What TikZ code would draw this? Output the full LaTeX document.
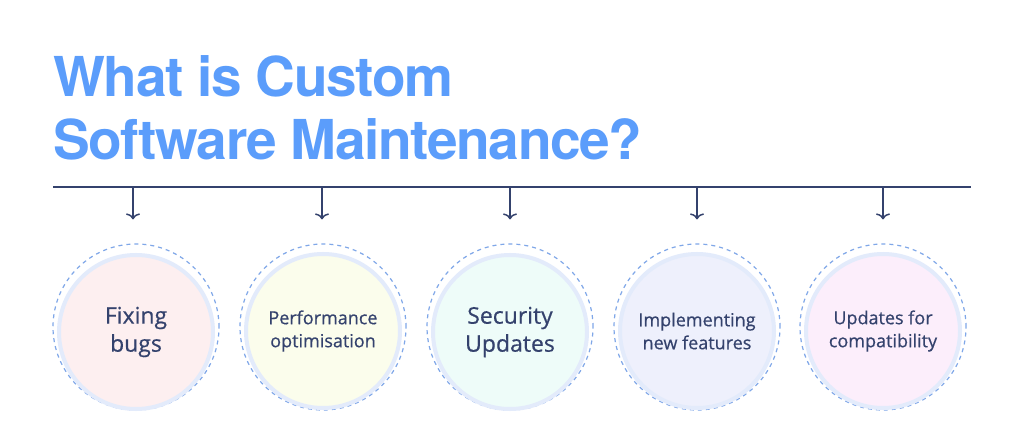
\documentclass[tikz,border=0pt]{standalone}
\usepackage{fontspec}
\setmainfont{Open Sans}
\newfontfamily\titlefont{TeX Gyre Heros}[LetterSpace=-2.5]
\newfontfamily\medfont{Open Sans}[FakeBold=0.5]
\usetikzlibrary{arrows.meta}
\definecolor{titleblue}{HTML}{5B9DFB}
\definecolor{navy}{HTML}{34426D}
\definecolor{ringblue}{HTML}{E3EBFB}
\definecolor{dashblue}{HTML}{7FA7E8}
\definecolor{fixfill}{HTML}{FDEFF0}
\definecolor{perffill}{HTML}{FBFDEC}
\definecolor{secfill}{HTML}{EEFCF9}
\definecolor{newfill}{HTML}{EEF0FC}
\definecolor{compfill}{HTML}{FCEEFB}
\tikzset{
  title/.style={anchor=base west, text=titleblue, font=\titlefont\fontsize{55}{55}\selectfont\bfseries, inner sep=0pt},
  ring/.style={circle, draw=dashblue, dashed, dash pattern=on 4pt off 4pt, line width=1.2pt, minimum size=166pt, inner sep=0pt},
  topic/.style={circle, draw=ringblue, line width=4pt, minimum size=154pt, inner sep=0pt, text=navy, align=center},
  big/.style={font=\medfont\fontsize{23}{28}\selectfont, yshift=-5pt},
  small/.style={font=\medfont\fontsize{18}{23}\selectfont, yshift=-4pt},
  >={To[length=6pt,width=14pt]}
}
\begin{document}
\begin{tikzpicture}[x=1pt, y=-1pt]
    \useasboundingbox [fill=white] (0,0) rectangle (1024,446);
    \node [title] (t1) at (53,97) {What is Custom};
    \node [title] (t2) at (53,160) {Software Maintenance?};
    % timeline
    \coordinate (l0) at (53,187);
    \coordinate (l1) at (971,187);
    \draw [navy, line width=1.5pt] (l0) -- (l1);
    % circles
    \node [ring] (r1) at (136,327) {};
    \node [ring] (r2) at (323,327) {};
    \node [ring] (r3) at (510,327) {};
    \node [ring] (r4) at (697,327) {};
    \node [ring] (r5) at (883,327) {};
    \node [topic, fill=fixfill, big] (c1) at (r1) {Fixing\\bugs};
    \node [topic, fill=perffill, small] (c2) at (r2) {Performance\\optimisation};
    \node [topic, fill=secfill, big] (c3) at (r3) {Security\\Updates};
    \node [topic, fill=newfill, small] (c4) at (r4) {Implementing\\new features};
    \node [topic, fill=compfill, small] (c5) at (r5) {Updates for\\compatibility};
    % arrows
    \foreach \i/\x in {1/133, 2/322, 3/510, 4/697, 5/883} {
        \coordinate (a\i) at (\x,187);
        \draw [->, navy, line width=1.5pt, shorten >=24pt] (a\i) -- (a\i |- r\i.north);
    }
\end{tikzpicture}
\end{document}
